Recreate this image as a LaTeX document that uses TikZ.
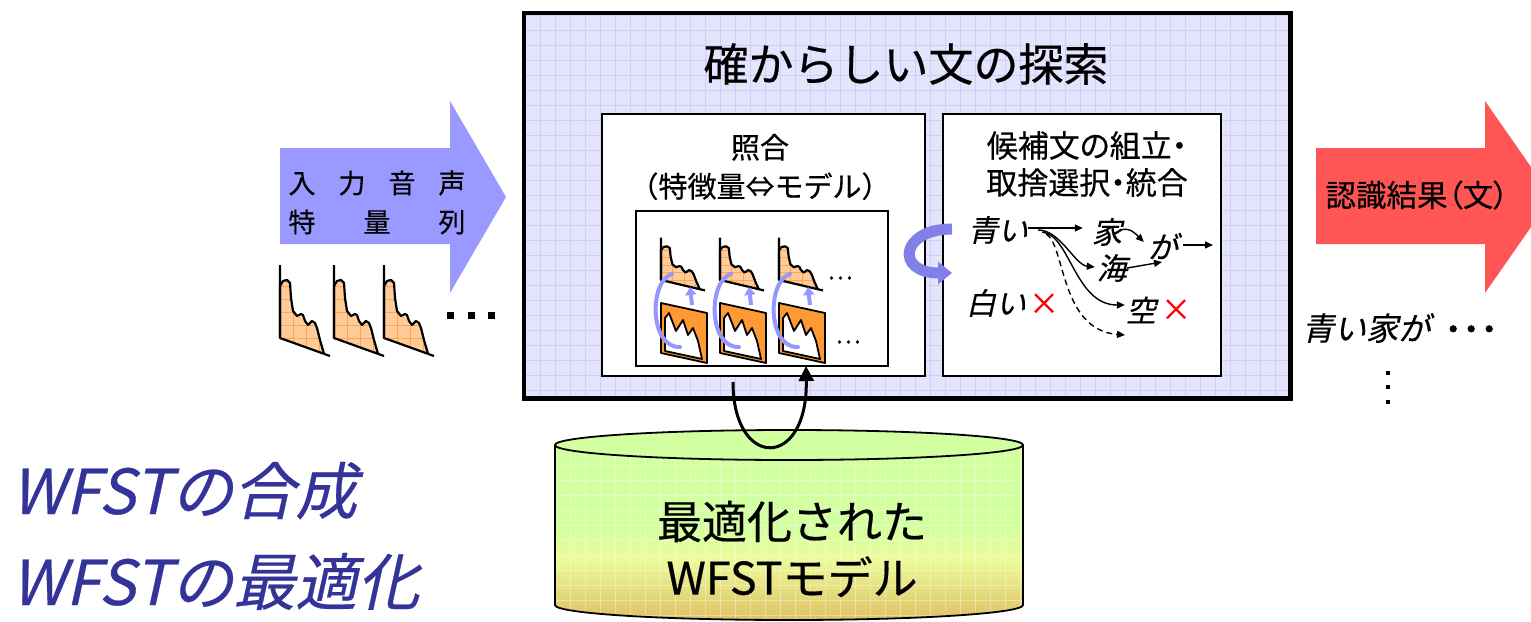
\documentclass[tikz,border=0pt]{standalone}
\usepackage{fontspec}
\setmainfont{Noto Sans CJK JP}[FakeBold=0.4]
\newfontfamily\jpslant[FakeSlant=0.22,FakeBold=0.4]{Noto Sans CJK JP}
\newfontfamily\jpprop[RawFeature=+palt,FakeBold=0.4]{Noto Sans CJK JP}
\newfontfamily\jpheavy[FakeBold=2.5]{Noto Sans CJK JP}
\usetikzlibrary{arrows.meta,calc,shapes.geometric}

\definecolor{mainfill}{RGB}{228,228,252}
\definecolor{maingrid}{RGB}{206,206,246}
\definecolor{inarrow}{RGB}{153,153,255}
\definecolor{outarrow}{RGB}{255,85,85}
\definecolor{specfill}{RGB}{255,204,153}
\definecolor{specgrid}{RGB}{255,165,80}
\definecolor{modelorange}{RGB}{255,153,51}
\definecolor{loopblue}{RGB}{150,150,255}
\definecolor{curlblue}{RGB}{128,128,232}
\definecolor{wfstblue}{RGB}{51,51,153}
\definecolor{cyltop}{RGB}{210,255,160}
\definecolor{cylmid}{RGB}{236,252,155}
\definecolor{cylbot}{RGB}{222,192,100}

% vertical colour run of the database cylinder (25bp = bottom, 75bp = top)
\pgfdeclareverticalshading{cylshade}{100bp}{color(0bp)=(cylbot); color(25bp)=(cylbot); color(41bp)=(cylmid); color(50bp)=(cyltop); color(100bp)=(cyltop)}

% outline of a spectrum icon, origin where axis meets the base line
\newcommand\specshape{(0,0) -- (0,-52) -- (3,-57) -- (7,-58) -- (10,-55) -- (11,-40) -- (13,-27) -- (17,-22) -- (21,-24) -- (23,-23) -- (25,-17) -- (28,-13) -- (32,-17) -- (35,-15) -- (37,-10) -- (40,2) -- (44,15.8)}

\begin{document}
\begin{tikzpicture}[x=1pt,y=-1pt,
  panel/.style={draw, line width=1.8pt, fill=white, inner sep=0pt, anchor=north west},
  word/.style={inner sep=0pt, font=\jpslant\fontsize{30}{34}\selectfont},
  cross/.style={inner sep=0pt, text=red, font=\fontsize{30}{34}\selectfont},
  wordarrow/.style={line width=1.4pt, -{Triangle[length=8pt,width=7pt]}},
  bluestroke/.style={draw=loopblue, line width=4pt, line cap=round},
  spec/.pic={
    \fill[specfill] \specshape -- cycle;
    \begin{scope}
      \clip \specshape -- cycle;
      \draw[specgrid, line width=0.6pt] (-1,20) grid[step=13pt] (52,-65);
    \end{scope}
    \draw[line width=2.2pt, line join=round] \specshape;
    \draw[line width=2.2pt, line join=round] (0,-73) -- (0,0) -- (50,18);
  },
  modelbox/.pic={
    \draw[fill=modelorange, line width=1.8pt, line join=round] (0,0) -- (46,10) -- (46,60) -- (0,50) -- cycle;
    \draw[fill=white, line width=1.8pt, line join=round] (4,48) -- (4,15) -- (8,10) -- (15,28) -- (22,17) -- (27,32) -- (32,25) -- (37,38) -- (41,56) -- cycle;
  }]
\useasboundingbox (0,0) rectangle (1531,621);

% ---------- input feature arrow ----------
\fill[inarrow] (280,148) -- (450,148) -- (450,101) -- (506,197) -- (450,293) -- (450,244) -- (280,244) -- cycle;
\node[inner sep=0pt, font=\fontsize{27}{30}\selectfont] (inrow1) at (377,183) {\makebox[177pt]{入\hfill 力\hfill 音\hfill 声}};
\node[inner sep=0pt, font=\fontsize{27}{30}\selectfont] (inrow2) at (377,222) {\makebox[177pt]{特\hfill 量\hfill 列}};

\foreach \x in {280,334,384} \pic at (\x,338) {spec};
\foreach \x in {447,468,488} \fill (\x,312) rectangle ++(7,7);

% ---------- search block ----------
\node[fill=mainfill, inner sep=0pt, anchor=north west, minimum width=766pt, minimum height=385pt] (mainbox) at (524,13) {};
\begin{scope}
  \clip (mainbox.south west) rectangle (mainbox.north east);
  \draw[maingrid, line width=0.6pt] (524,398) grid[step=15pt] (1290,13);
\end{scope}
\draw[line width=4.5pt] (mainbox.south west) rectangle (mainbox.north east);

\node[inner sep=0pt, font=\fontsize{45}{50}\selectfont] (title) at (906,64) {確からしい文の探索};

\node[panel, minimum width=323pt, minimum height=262pt] (matchbox) at (601,113) {};
\node[panel, minimum width=278pt, minimum height=262pt] (candbox) at (942,113) {};
\node[panel, minimum width=252pt, minimum height=155pt] (innerbox) at (635,210) {};

\node[inner sep=0pt, align=center, font=\fontsize{29}{39}\selectfont] (matchhead) at (760,167) {照合\\（特徴量⇔モデル）};
\node[inner sep=0pt, align=center, font=\jpprop\fontsize{31}{37}\selectfont] (candhead) at (1087,164) {候補文の組立・\\取捨選択・統合};

% feature frames and model frames with matching loops
\foreach \x in {661,720,779} {
  \pic[xscale=0.88, yscale=0.58] at (\x,280) {spec};
  \pic at (\x,303) {modelbox};
  \draw[bluestroke] (\x+11,274) .. controls (\x-12,281) and (\x-12,348) .. (\x+19,347);
  \draw[bluestroke, line cap=butt, -{Triangle[length=8pt,width=11pt]}] (\x+31,305) -- (\x+29,287);
}
\node[inner sep=0pt, font=\fontsize{24}{26}\selectfont] (dotsA) at (840,278) {…};
\node[inner sep=0pt, font=\fontsize{24}{26}\selectfont] (dotsB) at (848,342) {…};

% word lattice
\node[word] (ao) at (998,230) {青い};
\node[word] (ie) at (1107,232) {家};
\node[word] (ga) at (1163,246) {が};
\node[word] (umi) at (1112,268) {海};
\node[word] (shiroi) at (996,303) {白い};
\node[word] (sora) at (1141,310) {空};
\node[cross] (crossA) at (1044,304) {×};
\node[cross] (crossB) at (1176,310) {×};
\coordinate (gaout) at (1213,245);
\coordinate (dashend) at (1125,335);

\draw[wordarrow] ($(ao.east)+(0,-2)$) -- ($(ie.west)+(-9,-4)$);
\draw[wordarrow] ($(ie.east)+(-2,-2)$) .. controls +(10,-3) and +(-8,-8) .. ($(ga.west)+(-4,-4)$);
\draw[wordarrow] ($(ga.east)+(5,-1)$) -- (gaout);
\draw[wordarrow] ($(ao.east)+(10,0)$) .. controls +(22,0) and +(-20,-2) .. ($(umi.west)+(-2,-1)$);
\draw[wordarrow] (umi.east) -- ($(ga.center)+(-1,16)$);
\draw[wordarrow] ($(ao.east)+(14,2)$) .. controls +(28,3) and +(-50,0) .. ($(sora.west)+(-1,-5)$);
\draw[wordarrow, dash pattern=on 6pt off 4pt] ($(ao.east)+(18,4)$) .. controls +(19,11) and +(-65,-5) .. (dashend);

% hand-over between the two panels
\coordinate (curlA) at (952,229);
\coordinate (curlB) at (952,273);
\draw[curlblue, line width=11pt, -{Triangle[length=14pt,width=22pt]}] (curlA) .. controls (900,229) and (895,273) .. (curlB);

% ---------- result arrow ----------
\fill[outarrow] (1316,148) -- (1485,148) -- (1485,101) -- (1552,197) -- (1485,293) -- (1485,244) -- (1316,244) -- cycle;
\node[inner sep=0pt, font=\jpprop\fontsize{30.5}{32}\selectfont] (outtext) at (1417,195) {認識結果（文）};
\node[anchor=west, inner sep=0pt, font=\jpslant\fontsize{32}{35}\selectfont] (result) at (1302,328) {青い家が\hspace{14pt}{\jpheavy\fontsize{30}{34}\selectfont\makebox[18pt]{・}\makebox[18pt]{・}\makebox[18pt]{・}}};
\foreach \y in {371,385,400} \fill (1386,\y) rectangle ++(4,4);

% ---------- WFST database ----------
\path[shading=cylshade] (555,445) -- (555,605) arc[start angle=180, end angle=0, x radius=234, y radius=15] -- (1023,445) arc[start angle=0, end angle=-180, x radius=234, y radius=15] -- cycle;
\begin{scope}
  \clip (555,445) -- (555,605) arc[start angle=180, end angle=0, x radius=234, y radius=15] -- (1023,445) -- cycle;
  \draw[white, opacity=0.35, line width=0.6pt] (555,621) grid[step=15pt] (1023,445);
\end{scope}
\draw[line width=1.8pt] (555,445) -- (555,605) arc[start angle=180, end angle=0, x radius=234, y radius=15] -- (1023,445);
\node[draw, line width=1.8pt, fill=cyltop, ellipse, minimum width=468pt, minimum height=30pt, inner sep=0pt] (cyltopface) at (789,445) {};
\node[inner sep=0pt, align=center, font=\fontsize{45}{56}\selectfont] (cyltext) at (792,549) {最適化された\\WFSTモデル};

% access loop between model store and matching
\coordinate (loopA) at (733,382);
\coordinate (loopB) at (806,366);
\draw[line width=3pt, -{Triangle[length=15pt,width=15pt]}] (loopA) .. controls (733,470) and (808,470) .. (loopB);

% ---------- build steps ----------
\node[anchor=base west, inner sep=0pt, text=wfstblue, font=\jpslant\fontsize{62}{66}\selectfont] (wfstA) at (11,514) {WFSTの合成};
\node[anchor=base west, inner sep=0pt, text=wfstblue, font=\jpslant\fontsize{62}{66}\selectfont] (wfstB) at (11,605) {WFSTの最適化};
\end{tikzpicture}
\end{document}
